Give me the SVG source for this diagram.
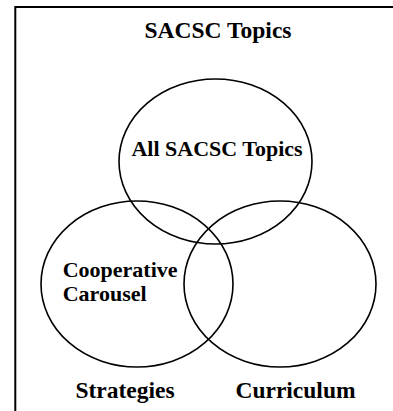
<svg xmlns="http://www.w3.org/2000/svg" width="393" height="411" viewBox="0 0 393 411">
  <style>
    .frame { fill: none; stroke: #000; stroke-width: 2; }
    .set { fill: none; stroke: #000; stroke-width: 1.6; }
    .lbl { font-family: "Liberation Serif", "Times New Roman", serif; font-weight: bold; fill: #000; }
    .big { font-size: 23.5px; }
    .inner { font-size: 22px; }
  </style>
  <rect width="393" height="411" fill="#fff"/>

  <!-- outer frame: only top and left edges fall inside the canvas -->
  <g id="frame">
    <path class="frame" d="M15.3 411 V7 H393"/>
    <text class="lbl big" x="218" y="38" text-anchor="middle">SACSC Topics</text>
  </g>

  <g id="connectors"/>

  <g id="topics">
    <ellipse class="set" cx="215.5" cy="161.5" rx="96.5" ry="82.5"/>
    <text class="lbl inner" x="217" y="156" text-anchor="middle">All SACSC Topics</text>
  </g>

  <g id="strategies">
    <ellipse class="set" cx="137" cy="284" rx="96" ry="83"/>
    <text class="lbl inner" x="62.7" y="277">Cooperative</text>
    <text class="lbl inner" x="62.7" y="300.5">Carousel</text>
    <text class="lbl big" x="125" y="398" text-anchor="middle">Strategies</text>
  </g>

  <g id="curriculum">
    <ellipse class="set" cx="280" cy="284" rx="96" ry="83"/>
    <text class="lbl big" x="295.5" y="398" text-anchor="middle">Curriculum</text>
  </g>
</svg>
